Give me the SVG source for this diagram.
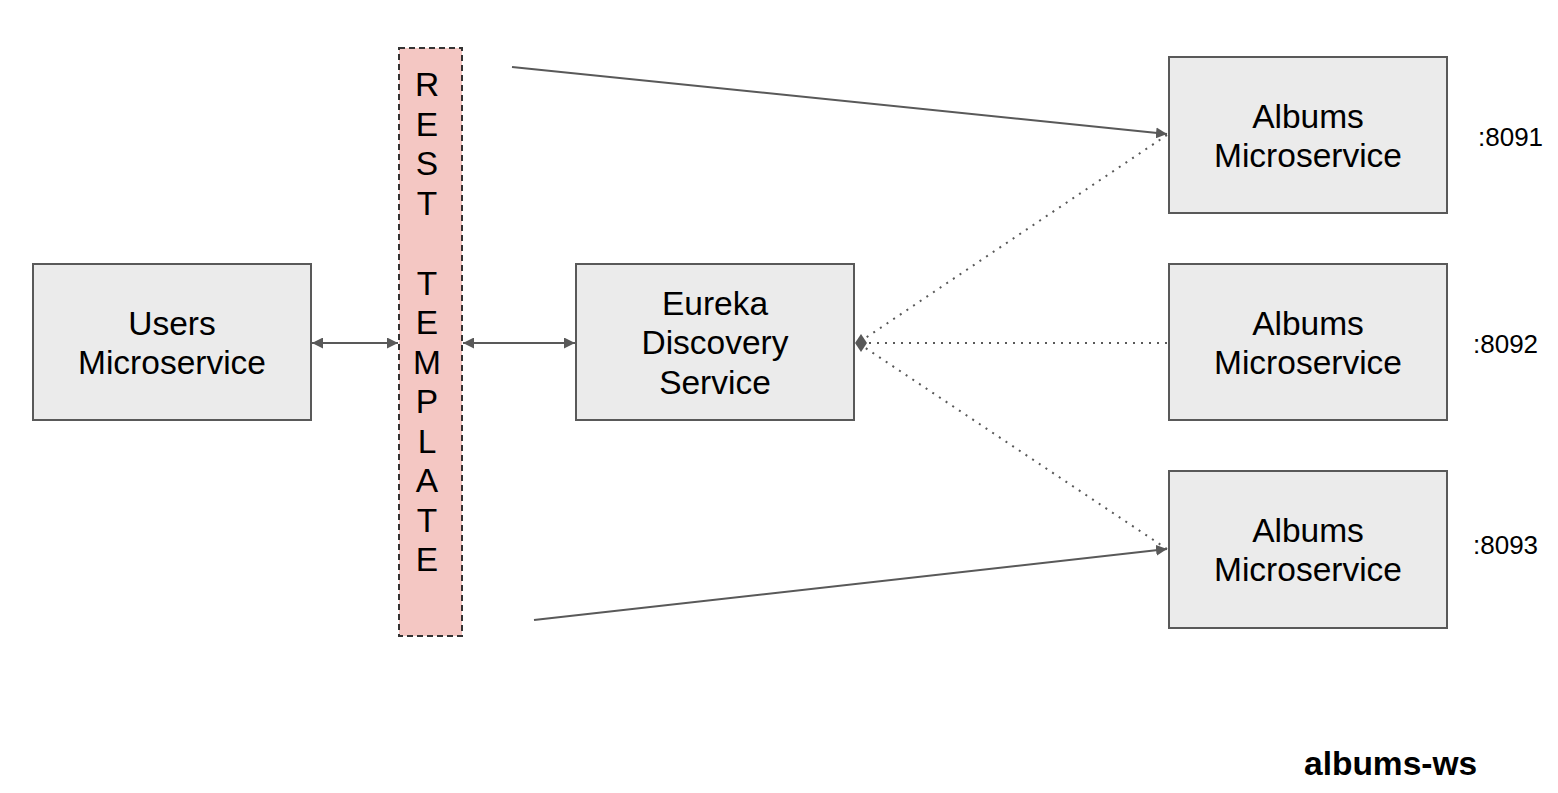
<svg xmlns="http://www.w3.org/2000/svg" width="1558" height="793" viewBox="0 0 1558 793">
<style>
.box{fill:#ebebeb;stroke:#595959;stroke-width:2}
.t{font-family:"Liberation Sans",Arial,sans-serif;font-size:33.5px;fill:#000;text-anchor:middle}
.port{font-family:"Liberation Sans",Arial,sans-serif;font-size:26px;fill:#000}
.ln{stroke:#595959;stroke-width:2;fill:none}
.dot{stroke:#595959;stroke-width:2;fill:none;stroke-dasharray:2 6}
</style>
<defs>
<marker id="ah" viewBox="0 0 10 10" refX="10" refY="5" markerWidth="5.5" markerHeight="5.5" orient="auto-start-reverse" markerUnits="strokeWidth">
<path d="M0,0 L10,5 L0,10 z" fill="#595959"/>
</marker>
</defs>
<rect width="1558" height="793" fill="#fff"/>
<g id="connectors">
<line class="ln" x1="312" y1="343" x2="398" y2="343" marker-start="url(#ah)" marker-end="url(#ah)"/>
<line class="ln" x1="463" y1="343" x2="575" y2="343" marker-start="url(#ah)" marker-end="url(#ah)"/>
<line class="ln" x1="512" y1="67" x2="1167" y2="134" marker-end="url(#ah)"/>
<line class="ln" x1="534" y1="620" x2="1167" y2="549" marker-end="url(#ah)"/>
<line class="dot" x1="1167" y1="135" x2="858" y2="343"/>
<line class="dot" x1="1167" y1="549" x2="858" y2="343"/>
<line class="dot" x1="1167" y1="343" x2="858" y2="343"/>
<path d="M855,343 L861,334 L867,343 L861,352 z" fill="#595959"/>
</g>
<g id="users">
<rect class="box" x="33" y="264" width="278" height="156"/>
<text class="t" x="172" y="335">Users</text>
<text class="t" x="172" y="374">Microservice</text>
</g>
<g id="rest-template">
<rect x="399" y="48" width="63" height="588" fill="#f4c7c3" stroke="#333" stroke-width="2" stroke-dasharray="6 4"/>
<text class="t" x="427" y="96">R</text>
<text class="t" x="427" y="136">E</text>
<text class="t" x="427" y="175">S</text>
<text class="t" x="427" y="215">T</text>
<text class="t" x="427" y="295">T</text>
<text class="t" x="427" y="334">E</text>
<text class="t" x="427" y="374">M</text>
<text class="t" x="427" y="413">P</text>
<text class="t" x="427" y="453">L</text>
<text class="t" x="427" y="492">A</text>
<text class="t" x="427" y="532">T</text>
<text class="t" x="427" y="571">E</text>
</g>
<g id="eureka">
<rect class="box" x="576" y="264" width="278" height="156"/>
<text class="t" x="715" y="315">Eureka</text>
<text class="t" x="715" y="354">Discovery</text>
<text class="t" x="715" y="394">Service</text>
</g>
<g id="albums1">
<rect class="box" x="1169" y="57" width="278" height="156"/>
<text class="t" x="1308" y="128">Albums</text>
<text class="t" x="1308" y="167">Microservice</text>
</g>
<g id="albums2">
<rect class="box" x="1169" y="264" width="278" height="156"/>
<text class="t" x="1308" y="335">Albums</text>
<text class="t" x="1308" y="374">Microservice</text>
</g>
<g id="albums3">
<rect class="box" x="1169" y="471" width="278" height="157"/>
<text class="t" x="1308" y="542">Albums</text>
<text class="t" x="1308" y="581">Microservice</text>
</g>
<text class="port" x="1478" y="146">:8091</text>
<text class="port" x="1473" y="353">:8092</text>
<text class="port" x="1473" y="554">:8093</text>
<text x="1304" y="775" font-family="'Liberation Sans',Arial,sans-serif" font-size="33.5" font-weight="bold">albums-ws</text>
</svg>
